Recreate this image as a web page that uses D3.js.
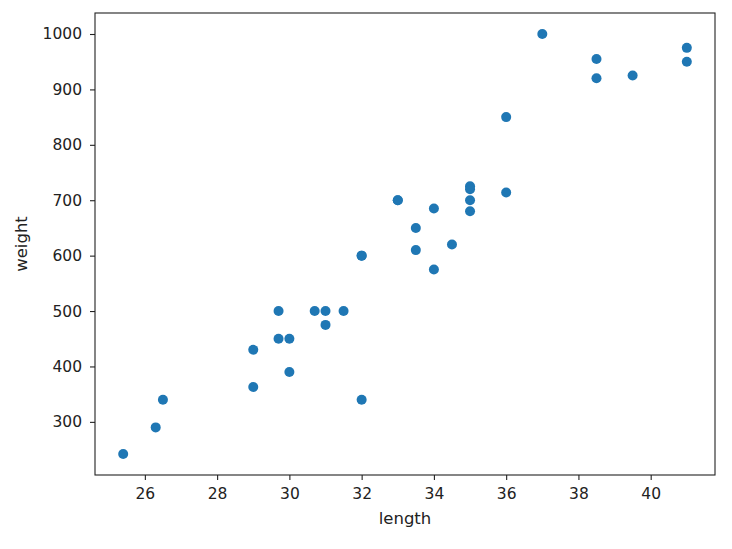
<!DOCTYPE html>
<html>
<head>
<meta charset="utf-8">
<script src="https://cdn.jsdelivr.net/npm/d3@7"></script>
<style>
  body { margin: 0; background: #fff; }
  text { font-family: "DejaVu Sans", sans-serif; fill: #222; }
</style>
</head>
<body>
<div id="chart"></div>
<script>
// Datos: longitud y peso
const lengths = [25.4, 26.3, 26.5, 29.0, 29.0, 29.7, 29.7, 30.0, 30.0, 30.7, 31.0, 31.0, 31.5, 32.0, 32.0, 32.0, 33.0, 33.0, 33.5, 33.5, 34.0, 34.0, 34.5, 35.0, 35.0, 35.0, 35.0, 36.0, 36.0, 37.0, 38.5, 38.5, 39.5, 41.0, 41.0];
const weights = [242, 290, 340, 363, 430, 450, 500, 390, 450, 500, 475, 500, 500, 340, 600, 600, 700, 700, 610, 650, 575, 685, 620, 680, 700, 725, 720, 714, 850, 1000, 920, 955, 925, 975, 950];
const xTicks = [26, 28, 30, 32, 34, 36, 38, 40];
const yTicks = [300, 400, 500, 600, 700, 800, 900, 1000];

const W = 732, H = 549;
const margin = {top: 13, right: 17, bottom: 74, left: 95};
const width = W - margin.left - margin.right;
const height = H - margin.top - margin.bottom;

const svg = d3.select('#chart').append('svg')
    .attr('width', W)
    .attr('height', H);

const g = svg.append('g')
    .attr('transform', `translate(${margin.left},${margin.top})`);

// Escalas con margen del 5% como matplotlib
const xExt = d3.extent(lengths), yExt = d3.extent(weights);
const xPad = (xExt[1] - xExt[0]) * 0.05, yPad = (yExt[1] - yExt[0]) * 0.05;

const x = d3.scaleLinear()
    .domain([xExt[0] - xPad, xExt[1] + xPad])
    .range([0, width]);

const y = d3.scaleLinear()
    .domain([yExt[0] - yPad, yExt[1] + yPad])
    .range([height, 0]);

// Puntos
g.selectAll('.dot')
    .data(lengths.map((l, i) => ({l, w: weights[i]})))
    .enter()
    .append('circle')
    .attr('class', 'dot')
    .attr('cx', d => x(d.l))
    .attr('cy', d => y(d.w))
    .attr('r', 5)
    .attr('fill', '#1f77b4');

// Ejes
const xAxis = g.append('g')
    .attr('transform', `translate(0,${height})`)
    .call(d3.axisBottom(x).tickValues(xTicks).tickSize(5).tickPadding(8).tickFormat(d3.format('d')));

const yAxis = g.append('g')
    .call(d3.axisLeft(y).tickValues(yTicks).tickSize(5).tickPadding(8).tickFormat(d3.format('d')));

[xAxis, yAxis].forEach(a => {
    a.select('.domain').remove();
    a.selectAll('line').attr('stroke', '#222').attr('stroke-width', 1.1);
    a.selectAll('text').attr('font-size', '15.5px').attr('fill', '#222')
        .style('font-family', '"DejaVu Sans", sans-serif');
});

// Marco
g.append('rect')
    .attr('width', width)
    .attr('height', height)
    .attr('fill', 'none')
    .attr('stroke', '#222')
    .attr('stroke-width', 1.1);

// Etiquetas de ejes
svg.append('text')
    .attr('x', margin.left + width / 2)
    .attr('y', 524)
    .attr('text-anchor', 'middle')
    .attr('font-size', '16.5px')
    .text('length');

svg.append('text')
    .attr('transform', `translate(27,${margin.top + height / 2}) rotate(-90)`)
    .attr('text-anchor', 'middle')
    .attr('font-size', '16.5px')
    .text('weight');
</script>
</body>
</html>
